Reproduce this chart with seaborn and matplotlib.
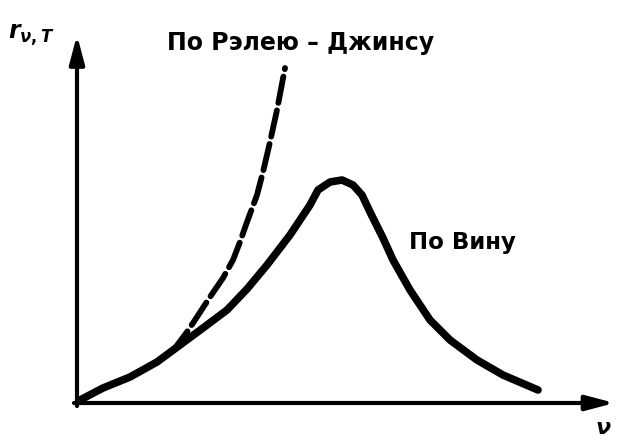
import matplotlib
matplotlib.use("Agg")
import matplotlib.pyplot as plt
import seaborn as sns
import pandas as pd

# Wien curve (arbitrary units)
wien_nu = [0.06, 0.52, 1.06, 1.6, 2.06, 2.52, 3.0, 3.4, 3.8, 4.26, 4.66, 4.82,
           5.06, 5.3, 5.52, 5.7, 5.86, 6.12, 6.32, 6.66, 7.06, 7.46, 8.0,
           8.52, 9.22]
wien_r = [0.06, 0.3, 0.52, 0.82, 1.16, 1.5, 1.86, 2.28, 2.76, 3.36, 3.96, 4.26,
          4.42, 4.46, 4.36, 4.16, 3.82, 3.3, 2.86, 2.26, 1.66, 1.26, 0.86,
          0.56, 0.26]

# Rayleigh-Jeans curve
rj_nu = [0.06, 0.52, 1.06, 1.6, 1.96, 2.2, 2.36, 2.66, 2.92, 3.12, 3.26, 3.4,
         3.6, 3.72, 3.86, 4.0, 4.16]
rj_r = [0.04, 0.3, 0.52, 0.82, 1.1, 1.42, 1.66, 2.12, 2.5, 2.86, 3.22, 3.62,
        4.16, 4.62, 5.22, 5.86, 6.7]

label_rj = "По Рэлею – Джинсу"
label_wien = "По Вину"
label_y = r"$r_{\nu,T}$"
label_x = r"$\nu$"

sns.set_style("white")
plt.rcParams['font.family'] = ['DejaVu Sans']
plt.rcParams['text.color'] = 'black'
plt.rcParams['mathtext.fontset'] = 'custom'
plt.rcParams['mathtext.it'] = 'DejaVu Sans:italic:bold'
plt.rcParams['mathtext.rm'] = 'DejaVu Sans:bold'
plt.rcParams['mathtext.bf'] = 'DejaVu Sans:bold'

fig = plt.figure(figsize=(6.17, 4.41), dpi=100)
ax = fig.add_axes([0, 0, 1, 1])
ax.set_xlim(-77 / 50, (617 - 77) / 50)
ax.set_ylim(-38 / 50, 403 / 50)
ax.axis("off")

wien = pd.DataFrame({"nu": wien_nu, "r": wien_r})
rj = pd.DataFrame({"nu": rj_nu, "r": rj_r})

sns.lineplot(data=wien, x="nu", y="r", ax=ax, color="black", lw=5.5,
             sort=False, estimator=None, solid_capstyle="round",
             solid_joinstyle="round")
sns.lineplot(data=rj, x="nu", y="r", ax=ax, color="black", lw=4.2,
             sort=False, estimator=None)
line = ax.lines[-1]
line.set_dashes((4.6, 1.3))
line.set_dash_capstyle("round")

# axes with arrows
ax.annotate("", xy=(10.75, 0), xytext=(-0.06, 0),
            arrowprops=dict(arrowstyle="-|>,head_length=1.7,head_width=0.45",
                            lw=3, color="black", shrinkA=0, shrinkB=0))
ax.annotate("", xy=(0, 7.36), xytext=(0, -0.06),
            arrowprops=dict(arrowstyle="-|>,head_length=1.7,head_width=0.45",
                            lw=3, color="black", shrinkA=0, shrinkB=0))

ax.text(4.48, 7.2, label_rj, fontsize=17, fontweight="bold", ha="center",
        va="center", color="black")
ax.text(6.64, 3.2, label_wien, fontsize=16.5, fontweight="bold", ha="left",
        va="center", color="black")
ax.text(-1.38, 7.6, label_y, fontsize=17, ha="left", va="top", color="black")
ax.text(10.52, -0.62, label_x, fontsize=16, ha="center", va="baseline",
        color="black")

fig.savefig("out.png", dpi=100)
